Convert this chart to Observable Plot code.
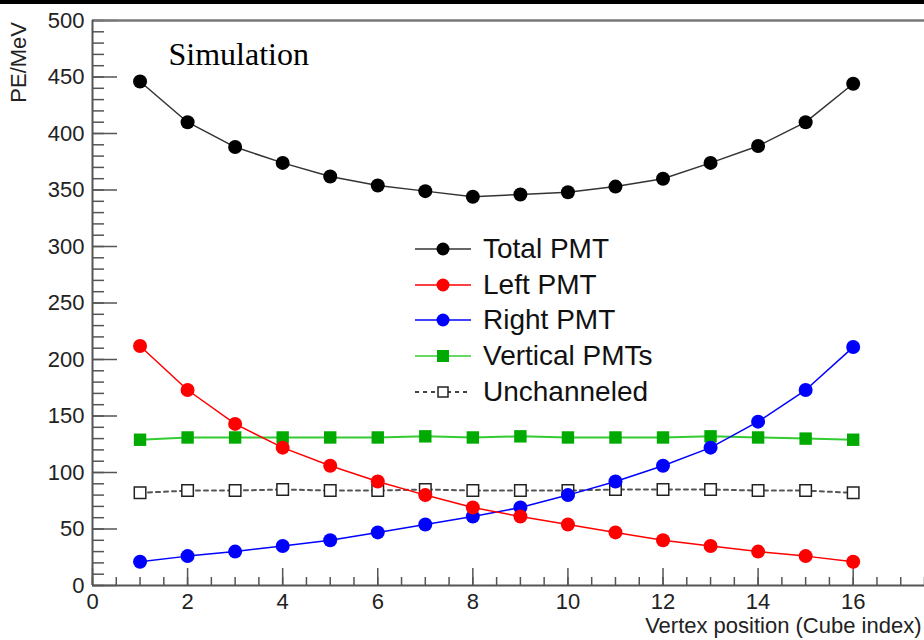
<!DOCTYPE html>
<html>
<head>
<meta charset="utf-8">
<script src="https://cdn.jsdelivr.net/npm/d3@7"></script>
<script src="https://cdn.jsdelivr.net/npm/@observablehq/plot@0.6"></script>
<style>
  html, body { margin: 0; padding: 0; background: #fff; }
  #wrap { position: relative; width: 924px; height: 640px; overflow: hidden; }
  #topbar { position: absolute; left: 0; top: 0; width: 924px; height: 4px; background: #000; }
  #ylab { position: absolute; left: 0; top: 0; }
  #legend { position: absolute; left: 412px; top: 231px; font-family: "Liberation Sans", Arial, sans-serif; font-size: 28px; color: #111; }
  .row { display: flex; align-items: center; height: 35.8px; }
  .row svg { margin-right: 9px; }
</style>
</head>
<body>
<div id="wrap"><div id="topbar"></div>
<svg id="ylab" width="40" height="120"><text transform="translate(26,22) rotate(-90)" text-anchor="end" font-family="'Liberation Sans', Arial, sans-serif" font-size="22" fill="#222">PE/MeV</text></svg>
<div id="legend"></div></div>
<script>
const cubes = [1, 2, 3, 4, 5, 6, 7, 8, 9, 10, 11, 12, 13, 14, 15, 16];
const totalPMT = [446, 410, 388, 374, 362, 354, 349, 344, 346, 348, 353, 360, 374, 389, 410, 444];
const leftPMT = [212, 173, 143, 122, 106, 92, 80, 69, 61, 54, 47, 40, 35, 30, 26, 21];
const rightPMT = [21, 26, 30, 35, 40, 47, 54, 61, 69, 80, 92, 106, 122, 145, 173, 211];
const verticalPMTs = [129, 131, 131, 131, 131, 131, 132, 131, 132, 131, 131, 131, 132, 131, 130, 129];
const unchanneled = [82, 84, 84, 85, 84, 84, 85, 84, 84, 84, 85, 85, 85, 84, 84, 82];
const seriesNames = ["Total PMT", "Left PMT", "Right PMT", "Vertical PMTs", "Unchanneled"];
const xMajor = [0, 2, 4, 6, 8, 10, 12, 14, 16];
const xMinor = d3.range(0, 17.51, 0.5);
const yMajor = [0, 50, 100, 150, 200, 250, 300, 350, 400, 450, 500];
const yMinor = d3.range(0, 501, 10);

const rows = (vals) => cubes.map((c, i) => ({x: c, y: vals[i]}));
const W = 924, H = 640, mL = 92, mR = 0, mT = 20, mB = 55;
const fh = H - mT - mB, fw = W - mL - mR;
const font = "'Liberation Sans', Arial, sans-serif";
const axisColor = "#555";

const chart = Plot.plot({
  width: W, height: H,
  marginLeft: mL, marginRight: mR, marginTop: mT, marginBottom: mB,
  style: {fontFamily: font, background: "transparent", overflow: "visible"},
  x: {domain: [0, 17.5], axis: null},
  y: {domain: [0, 500], axis: null},
  marks: [
    // ticks
    Plot.tickX(xMinor, {x: d => d, insetTop: fh - 8, stroke: axisColor, strokeWidth: 1.5}),
    Plot.tickX(xMajor, {x: d => d, insetTop: fh - 17, stroke: axisColor, strokeWidth: 1.5}),
    Plot.tickY(yMinor, {y: d => d, insetRight: fw - 12, stroke: axisColor, strokeWidth: 1.5}),
    Plot.tickY(yMajor, {y: d => d, insetRight: fw - 25, stroke: axisColor, strokeWidth: 1.5}),
    // frame
    Plot.ruleY([0], {stroke: axisColor, strokeWidth: 2}),
    Plot.ruleY([500], {stroke: "#777", strokeWidth: 2.5}),
    Plot.ruleX([0], {stroke: axisColor, strokeWidth: 2}),
    // tick labels
    Plot.axisX(xMajor, {tickSize: 0, tickPadding: 8, fontSize: 22, fill: "#222", label: null}),
    Plot.axisY(yMajor, {tickSize: 0, tickPadding: 8, fontSize: 22, fill: "#222", label: null}),
    Plot.text(["Vertex position (Cube index)"], {frameAnchor: "bottom-right", textAnchor: "end", lineAnchor: "bottom", dx: -3, dy: 47, fontSize: 22, fill: "#222"}),
    Plot.text(["Simulation"], {frameAnchor: "top-left", textAnchor: "start", dx: 76, dy: 22, fontSize: 32, fontFamily: "'Liberation Serif', 'Times New Roman', serif", fill: "#000"}),
    // series
    Plot.line(rows(unchanneled), {x: "x", y: "y", stroke: "#555", strokeWidth: 2, strokeDasharray: "4,4"}),
    Plot.dot(rows(unchanneled), {x: "x", y: "y", symbol: "square", r: 6.5, fill: "white", stroke: "#222", strokeWidth: 1.5}),
    Plot.line(rows(verticalPMTs), {x: "x", y: "y", stroke: "#33cc33", strokeWidth: 2}),
    Plot.dot(rows(verticalPMTs), {x: "x", y: "y", symbol: "square", r: 7, fill: "#00aa00", stroke: "none"}),
    Plot.line(rows(rightPMT), {x: "x", y: "y", stroke: "#0000ff", strokeWidth: 1.5}),
    Plot.dot(rows(rightPMT), {x: "x", y: "y", r: 7, fill: "#0000ff", stroke: "none"}),
    Plot.line(rows(leftPMT), {x: "x", y: "y", stroke: "#ff0000", strokeWidth: 1.5}),
    Plot.dot(rows(leftPMT), {x: "x", y: "y", r: 7, fill: "#ff0000", stroke: "none"}),
    Plot.line(rows(totalPMT), {x: "x", y: "y", stroke: "#333", strokeWidth: 1.5}),
    Plot.dot(rows(totalPMT), {x: "x", y: "y", r: 7, fill: "#000", stroke: "none"})
  ]
});
document.getElementById("wrap").insertBefore(chart, document.getElementById("topbar"));
chart.style.position = "absolute"; chart.style.left = "0"; chart.style.top = "0";

// legend
const legendStyles = [
  {line: "#333", dash: null, marker: "circle", fill: "#000", stroke: "none"},
  {line: "#ff0000", dash: null, marker: "circle", fill: "#ff0000", stroke: "none"},
  {line: "#0000ff", dash: null, marker: "circle", fill: "#0000ff", stroke: "none"},
  {line: "#33cc33", dash: null, marker: "square", fill: "#00aa00", stroke: "none"},
  {line: "#444", dash: "4,4", marker: "osquare", fill: "#fff", stroke: "#222"}
];
const legend = document.getElementById("legend");
seriesNames.forEach((name, i) => {
  const s = legendStyles[i];
  const row = document.createElement("div"); row.className = "row";
  let m;
  if (s.marker === "circle") m = `<circle cx="31" cy="10" r="6.5" fill="${s.fill}"/>`;
  else if (s.marker === "square") m = `<rect x="25" y="4" width="12" height="12" fill="${s.fill}"/>`;
  else m = `<rect x="26" y="5" width="10" height="10" fill="#fff" stroke="${s.stroke}" stroke-width="1.5"/>`;
  row.innerHTML = `<svg width="62" height="20"><line x1="3" x2="59" y1="10" y2="10" stroke="${s.line}" stroke-width="${s.dash ? 2 : 1.5}" ${s.dash ? `stroke-dasharray="${s.dash}"` : ""}/>${m}</svg><span>${name}</span>`;
  legend.appendChild(row);
});
</script>
</body>
</html>
